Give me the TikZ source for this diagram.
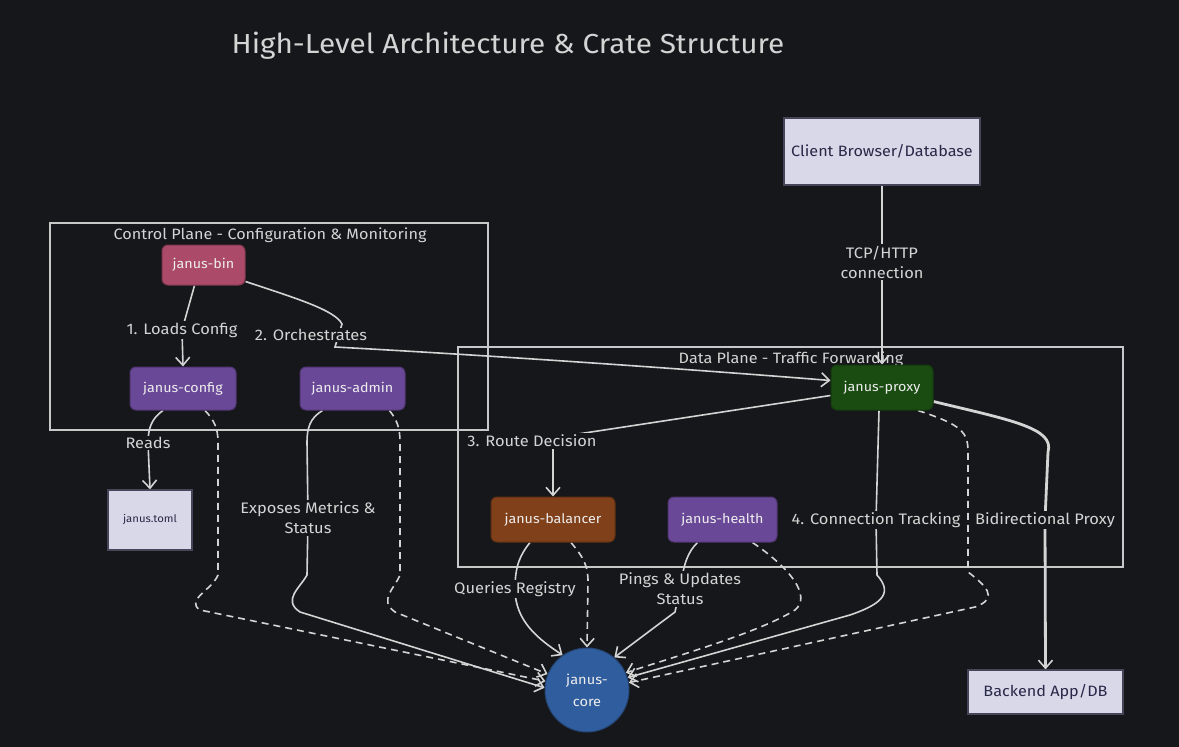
\documentclass[tikz,border=0pt]{standalone}
\usepackage{fontspec}
\setmainfont[FakeStretch=1.08]{Fira Sans}
\usetikzlibrary{arrows.meta,shapes.geometric,backgrounds}
\definecolor{bgc}{RGB}{22,23,26}
\definecolor{linec}{RGB}{212,212,212}
\definecolor{grpc}{RGB}{200,200,200}
\definecolor{nodetext}{RGB}{238,238,238}
\definecolor{binc}{RGB}{172,74,106}
\definecolor{purc}{RGB}{106,72,152}
\definecolor{grnc}{RGB}{26,76,18}
\definecolor{brnc}{RGB}{128,64,26}
\definecolor{bluc}{RGB}{48,93,157}
\definecolor{extfill}{RGB}{216,216,232}
\definecolor{extborder}{RGB}{70,70,90}
\definecolor{exttext}{RGB}{40,40,72}
\pgfdeclarelayer{edges}
\pgfsetlayers{background,edges,main}
\begin{document}
\begin{tikzpicture}[x=1pt,y=-1pt,
  crate/.style={draw=#1!75!black, fill=#1, rounded corners=6pt, text=nodetext,
    font=\fontsize{13.25}{15}\selectfont, minimum height=43pt, inner sep=0pt, line width=1pt},
  ext/.style={draw=extborder, fill=extfill, text=exttext, rectangle, line width=1.2pt,
    inner sep=0pt, font=\fontsize{15}{17}\selectfont},
  lbl/.style={fill=bgc, text=linec, inner sep=1.5pt, align=center,
    font=\fontsize{15.2}{20}\selectfont},
  grplbl/.style={text=linec, inner sep=0pt, font=\fontsize{15}{17}\selectfont},
  grp/.style={draw=grpc, line width=1.3pt},
  edge/.style={draw=linec, line width=1.6pt,
    -{Straight Barb[length=8pt,width=14pt,line width=1.6pt]}},
  dedge/.style={edge, dash pattern=on 7pt off 5pt},
  tedge/.style={edge, line width=2.8pt}
]
\begin{pgfonlayer}{background}
\fill[bgc] (0,0) rectangle (1179,747);
\end{pgfonlayer}
\useasboundingbox (0,0) rectangle (1179,747);

% title
\node[text=linec, font=\fontsize{27.5}{32}\selectfont] (title) at (508,46) {High-Level Architecture \& Crate Structure};

% groups
\begin{pgfonlayer}{background}
\draw[grp] (50,223) rectangle (488,430);
\node[grplbl] (cplabel) at (270,235) {Control Plane - Configuration \& Monitoring};
\draw[grp] (458,347) rectangle (1123,567);
\node[grplbl] (dplabel) at (791,359) {Data Plane - Traffic Forwarding};
\end{pgfonlayer}

% nodes
\node[crate=binc, minimum width=83pt, minimum height=40pt] (bin) at (203.5,265) {janus-bin};
\node[crate=purc, minimum width=106pt] (config) at (183,388.5) {janus-config};
\node[crate=purc, minimum width=105pt] (admin) at (352.5,388.5) {janus-admin};
\node[ext, minimum width=84pt, minimum height=60pt, font=\fontsize{10.5}{13}\selectfont] (toml) at (150,520) {janus.toml};
\node[crate=grnc, minimum width=102pt, minimum height=45pt] (proxy) at (882,387.5) {janus-proxy};
\node[crate=brnc, minimum width=124pt, minimum height=45pt] (balancer) at (553,519.5) {janus-balancer};
\node[crate=purc, minimum width=109pt, minimum height=45pt] (health) at (722.5,519.5) {janus-health};
\node[ext, minimum width=196pt, minimum height=67pt] (client) at (882,151.5) {Client Browser/Database};
\node[ext, minimum width=155pt, minimum height=44pt] (backend) at (1045.5,692) {Backend App/DB};
\node[circle, draw=bluc!75!black, fill=bluc, text=nodetext, minimum size=84pt, inner sep=0pt,
  align=center, font=\fontsize{13.5}{22}\selectfont, line width=1pt] (core) at (587,690) {janus-\\core};

% labels
\node[lbl] (l1) at (182,330) {1. Loads Config};
\node[lbl] (l2) at (311,335) {2. Orchestrates};
\node[lbl] (l3) at (532,441) {3. Route Decision};
\node[lbl] (l4) at (876,520) {4. Connection Tracking};
\node[lbl] (l5) at (1045,520) {Bidirectional Proxy};
\node[lbl] (l6) at (882,262) {TCP/HTTP\\connection};
\node[lbl] (l7) at (148,443) {Reads};
\node[lbl] (l8) at (308,518) {Exposes Metrics \&\\Status};
\node[lbl] (l9) at (515,589) {Queries Registry};
\node[lbl] (l10) at (680,589) {Pings \& Updates\\Status};

% edges
\begin{pgfonlayer}{edges}
\draw[tedge] (client.south) -- (l6.center) -- (proxy.north);
\draw[edge] ([xshift=-9pt]bin.south) -- (l1.center) -- (config.north);
\draw[edge] ([yshift=4pt]bin.south east) .. controls (295,298) and (335,310) .. (342,324)
  -- (335,347) .. controls (500,356) and (700,370) .. ([yshift=7pt]proxy.west);
\draw[edge] ([yshift=-8pt]proxy.west) -- (l3.center) -- (l3.center -| balancer.north) -- (balancer.north);
\draw[edge] ([xshift=-3pt]proxy.south) -- (l4.center) -- (877,575)
  .. controls (892,592) and (885,603) .. (850,615) -- (core.17);
\draw[tedge] ([yshift=-14pt]proxy.east) .. controls (1010,420) and (1055,428) .. (1048,452)
  -- (l5.center) -- (backend.north);
\draw[dedge] ([xshift=36pt]proxy.south) .. controls (962,425) and (968,432) .. (968,452)
  -- (968,572) .. controls (985,585) and (1000,598) .. (975,607) -- (core.10);
\draw[edge] ([xshift=-20pt]config.south) .. controls (152,418) and (148,428) .. (l7.center) -- (toml.north);
\draw[dedge] ([xshift=22pt]config.south) .. controls (214,420) and (218,428) .. (218,442)
  -- (218,575) .. controls (212,590) and (185,600) .. (200,610) -- (core.168);
\draw[edge] ([xshift=-30pt]admin.south) .. controls (310,418) and (307,428) .. (307,442)
  -- (l8.center) -- (307,575) .. controls (300,588) and (282,600) .. (300,612) -- (core.177);
\draw[dedge] ([xshift=37pt]admin.south) .. controls (397,420) and (400,428) .. (400,442)
  -- (400,575) .. controls (395,588) and (378,600) .. (395,612) -- (core.158);
\draw[edge] ([xshift=-23pt]balancer.south) .. controls (520,555) and (515,566) .. (l9.center)
  .. controls (515,622) and (540,640) .. (core.125);
\draw[dedge] ([xshift=18pt]balancer.south) .. controls (584,558) and (588,566) .. (588,582) -- (core.north);
\draw[edge] ([xshift=-25pt]health.south) .. controls (688,552) and (684,562) .. (l10.center)
  -- (675,612) -- (core.50);
\draw[dedge] ([xshift=30pt]health.south) .. controls (790,568) and (812,596) .. (795,610)
  .. controls (760,632) and (680,655) .. (core.24);
\end{pgfonlayer}
\end{tikzpicture}
\end{document}
